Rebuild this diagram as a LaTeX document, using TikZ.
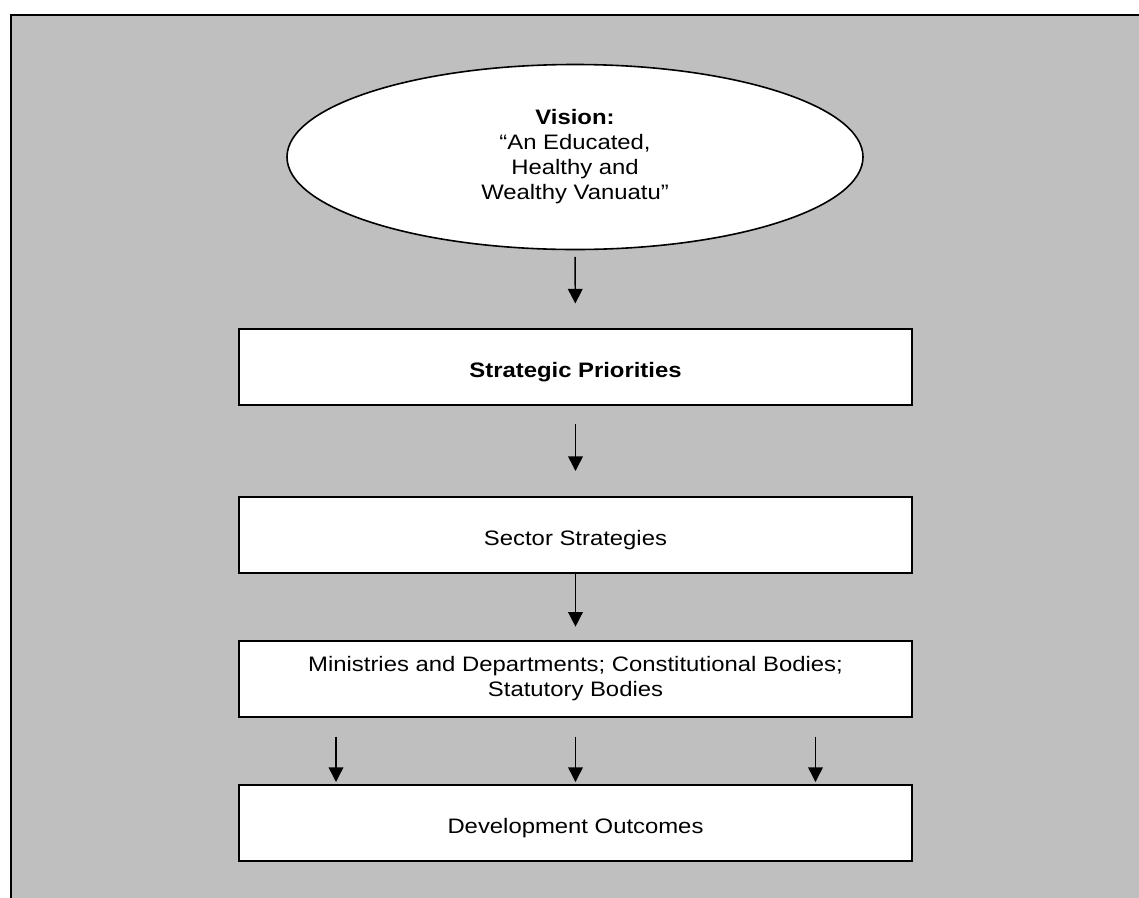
\documentclass[tikz,border=0pt]{standalone}
\usepackage{fontspec}
\setmainfont{Liberation Sans}[FakeStretch=1.14]
\usetikzlibrary{shapes.geometric,arrows.meta,calc}
\begin{document}
\begin{tikzpicture}[x=0.75pt,y=-0.75pt,
  txt/.style={font=\fontsize{15.7}{18.75}\selectfont},
  box/.style={txt,draw=black,line width=1.5pt,fill=white,minimum width=504.75pt,minimum height=57pt,inner sep=0pt,align=center},
  onebox/.style={box,text height=18pt,text depth=2.2pt},
  vis/.style={txt,ellipse,draw=black,line width=1.2pt,fill=white,minimum width=432pt,minimum height=138.75pt,inner sep=0pt,align=center},
  arr/.style={line width=1.1pt,-{Triangle[length=11pt,width=11pt]}}]
\useasboundingbox (0,0) rectangle (1139,897);
\fill[black!25] (11,15) rectangle (1150,910);
\draw[line width=2.2pt] (11,910) -- (11,15) -- (1150,15);
\node[vis] (v) at (575,157) {\textbf{Vision:}\\``An Educated,\\Healthy and\\Wealthy Vanuatu''};
\node[onebox] (sp) at (575.5,366.5) {\textbf{Strategic Priorities}};
\node[onebox] (ss) at (575.5,535) {Sector Strategies};
\node[box] (md) at (575.5,679) {Ministries and Departments; Constitutional Bodies;\\Statutory Bodies};
\node[onebox] (do) at (575.5,823) {Development Outcomes};
\draw[arr,shorten <=5pt,shorten >=18pt] (v.south) -- (sp.north);
\draw[arr,shorten <=13.5pt,shorten >=18.75pt] (sp.south) -- (ss.north);
\draw[arr,shorten >=10pt] (ss.south) -- (md.north);
\draw[arr,shorten <=14pt,shorten >=1.5pt] (md.south) -- (do.north);
\draw[arr,shorten <=14pt,shorten >=1.5pt] ($(md.south)+(-239.5,0)$) -- ($(do.north)+(-239.5,0)$);
\draw[arr,shorten <=14pt,shorten >=1.5pt] ($(md.south)+(240,0)$) -- ($(do.north)+(240,0)$);
\end{tikzpicture}
\end{document}
